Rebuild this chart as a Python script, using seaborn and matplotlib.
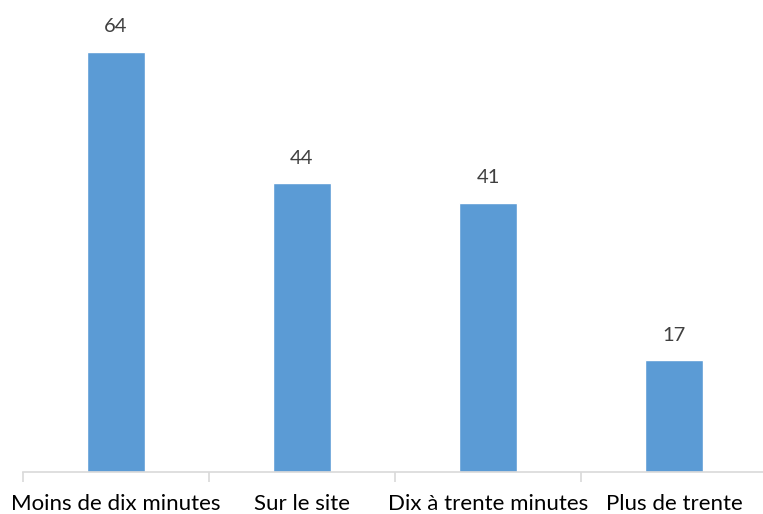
import pandas as pd
import matplotlib.pyplot as plt
import seaborn as sns

categories = ['Moins de dix minutes', 'Sur le site', 'Dix à trente minutes', 'Plus de trente']
values = [64, 44, 41, 17]

df = pd.DataFrame({'categorie': categories, 'valeur': values})

sns.set_style('white')
plt.rcParams['font.family'] = ['Lato', 'DejaVu Sans']

fig = plt.figure(figsize=(7.63, 5.14), dpi=100)
ax = fig.add_axes([23 / 763, 42 / 514, 744 / 763, 459.4 / 514])

sns.barplot(data=df, x='categorie', y='valeur', color='#5B9BD5',
            width=0.315, saturation=1, ax=ax)

for i, v in enumerate(values):
    ax.annotate(str(v), (i, v), xytext=(0, 12), textcoords='offset points',
                ha='center', va='bottom', fontsize=14.5, color='#404040')

ax.set_xlim(-0.5, 3.5)
ax.set_ylim(0, 70)
ax.set_xlabel('')
ax.set_ylabel('')
ax.set_yticks([])
for s in ['top', 'right', 'left']:
    ax.spines[s].set_visible(False)
ax.spines['bottom'].set_color('#D9D9D9')
ax.spines['bottom'].set_linewidth(1.2)

ax.set_xticks([-0.5, 0.5, 1.5, 2.5, 3.5], minor=True)
ax.tick_params(axis='x', which='minor', length=7, color='#D9D9D9', width=1.2, bottom=True)
ax.tick_params(axis='x', which='major', length=0, pad=16, labelsize=16, labelcolor='#000000')

plt.savefig('out.png', dpi=100)
plt.close()
